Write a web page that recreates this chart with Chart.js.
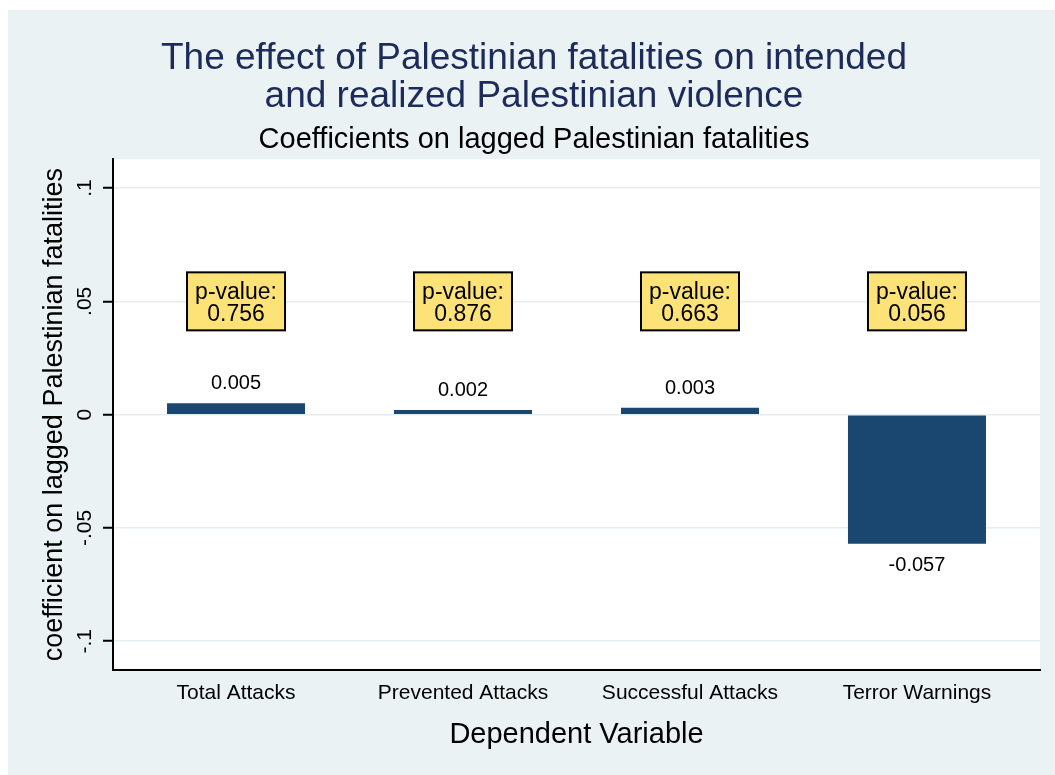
<!DOCTYPE html>
<html>
<head>
<meta charset="utf-8">
<script src="https://cdn.jsdelivr.net/npm/chart.js@4.4.0/dist/chart.umd.min.js"></script>
<style>
    html, body { margin: 0; padding: 0; background: #ffffff; }
    #wrap { width: 1055px; height: 775px; }
</style>
</head>
<body>
<div id="wrap"><canvas id="chart" width="1055" height="775"></canvas></div>
<script>
// 图表数据
const categories = ['Total Attacks', 'Prevented Attacks', 'Successful Attacks', 'Terror Warnings'];
const coefficients = [0.005, 0.002, 0.003, -0.057];
const coefficientLabels = ['0.005', '0.002', '0.003', '-0.057'];
const pValues = ['0.756', '0.876', '0.663', '0.056'];
const yTickValues = [-0.1, -0.05, 0, 0.05, 0.1];
const yTickLabels = ['-.1', '-.05', '0', '.05', '.1'];

const FONT = "'Liberation Sans', Arial, Helvetica, sans-serif";
const BAR_COLOR = '#1a476f';
const BG_COLOR = '#eaf2f3';
const P_BOX_LEVEL = 0.05; // p值框放在 y = .05 处

// 背景：白边 + 浅灰蓝底 + 白色绘图区
const backgroundPlugin = {
    id: 'stataBackground',
    beforeDraw(chart) {
        const { ctx, width, height, chartArea } = chart;
        ctx.save();
        ctx.fillStyle = '#ffffff';
        ctx.fillRect(0, 0, width, height);
        ctx.fillStyle = BG_COLOR;
        ctx.fillRect(8, 10, width - 8, height - 10);
        ctx.fillStyle = '#ffffff';
        ctx.fillRect(chartArea.left, chartArea.top, chartArea.right - chartArea.left, chartArea.bottom - chartArea.top);
        ctx.restore();
    }
};

// 数值标签和 p 值框
const annotationPlugin = {
    id: 'barAnnotations',
    afterDatasetsDraw(chart) {
        const { ctx } = chart;
        const meta = chart.getDatasetMeta(0);
        const yScale = chart.scales.y;
        const boxY = yScale.getPixelForValue(P_BOX_LEVEL);
        ctx.save();
        meta.data.forEach((bar, i) => {
            // 系数标签
            ctx.fillStyle = '#000000';
            ctx.font = '20px ' + FONT;
            ctx.textAlign = 'center';
            ctx.textBaseline = 'alphabetic';
            if (coefficients[i] >= 0) {
                ctx.fillText(coefficientLabels[i], bar.x, bar.y - 14);
            } else {
                ctx.fillText(coefficientLabels[i], bar.x, bar.y + 27);
            }

            // p 值框
            const w = 98, h = 58;
            ctx.fillStyle = '#fde377';
            ctx.fillRect(bar.x - w / 2, boxY - h / 2, w, h);
            ctx.lineWidth = 2;
            ctx.strokeStyle = '#000000';
            ctx.strokeRect(bar.x - w / 2, boxY - h / 2, w, h);
            ctx.fillStyle = '#000000';
            ctx.font = '23px ' + FONT;
            ctx.textBaseline = 'middle';
            ctx.fillText('p-value:', bar.x, boxY - 9);
            ctx.fillText(pValues[i], bar.x, boxY + 13);
        });
        ctx.restore();
    },
    afterDraw(chart) {
        // 竖排的 y 轴刻度标签
        const { ctx } = chart;
        const yScale = chart.scales.y;
        ctx.save();
        ctx.fillStyle = '#000000';
        ctx.font = '21px ' + FONT;
        ctx.textAlign = 'center';
        ctx.textBaseline = 'alphabetic';
        yTickValues.forEach((v, i) => {
            const py = yScale.getPixelForValue(v);
            ctx.save();
            ctx.translate(91, py);
            ctx.rotate(-Math.PI / 2);
            ctx.fillText(yTickLabels[i], 0, 0);
            ctx.restore();
        });
        ctx.restore();
    }
};

const ctx = document.getElementById('chart').getContext('2d');
const chart = new Chart(ctx, {
    type: 'bar',
    data: {
        datasets: [{
            data: coefficients.map((v, i) => ({ x: i, y: v })),
            backgroundColor: BAR_COLOR,
            borderWidth: 0,
            categoryPercentage: 1.0,
            barPercentage: 0.608
        }]
    },
    options: {
        responsive: false,
        devicePixelRatio: 1,
        animation: false,
        layout: {
            padding: { top: 40, left: 28, right: 15, bottom: 0 }
        },
        scales: {
            x: {
                type: 'linear',
                offset: false,
                min: -0.542,
                max: 3.542,
                afterFit: scale => { scale.height = 105; },
                afterBuildTicks: scale => {
                    scale.ticks = categories.map((c, i) => ({ value: i }));
                },
                grid: { display: false },
                border: { display: true, color: '#000000', width: 2 },
                ticks: {
                    padding: 3,
                    maxRotation: 0,
                    autoSkip: false,
                    color: '#000000',
                    font: { family: FONT, size: 21 },
                    callback: value => categories[value]
                },
                title: {
                    display: true,
                    text: 'Dependent Variable',
                    color: '#000000',
                    font: { family: FONT, size: 29 },
                    padding: { top: 0, bottom: 23 }
                }
            },
            y: {
                min: -0.1127,
                max: 0.1127,
                afterFit: scale => { scale.width = 85; },
                afterBuildTicks: scale => {
                    scale.ticks = yTickValues.map(v => ({ value: v }));
                },
                grid: {
                    color: '#e4edef',
                    lineWidth: 1.5,
                    drawTicks: true,
                    tickLength: 10,
                    tickColor: '#000000',
                    tickWidth: 2
                },
                border: { display: true, color: '#000000', width: 2 },
                ticks: { display: false },
                title: {
                    display: true,
                    text: 'coefficient on lagged Palestinian fatalities',
                    color: '#000000',
                    font: { family: FONT, size: 27 },
                    padding: { top: 10, bottom: 0 }
                }
            }
        },
        plugins: {
            legend: { display: false },
            tooltip: { enabled: false },
            title: {
                display: true,
                text: ['The effect of Palestinian fatalities on intended', 'and realized Palestinian violence'],
                color: '#1c2b5a',
                font: { family: FONT, size: 37, weight: 'normal', lineHeight: 1.02 },
                padding: { top: 0, bottom: 0 }
            },
            subtitle: {
                display: true,
                text: 'Coefficients on lagged Palestinian fatalities',
                color: '#000000',
                font: { family: FONT, size: 29, lineHeight: 1.2 },
                padding: { top: 7, bottom: 2 }
            }
        }
    },
    plugins: [backgroundPlugin, annotationPlugin]
});
</script>
</body>
</html>
